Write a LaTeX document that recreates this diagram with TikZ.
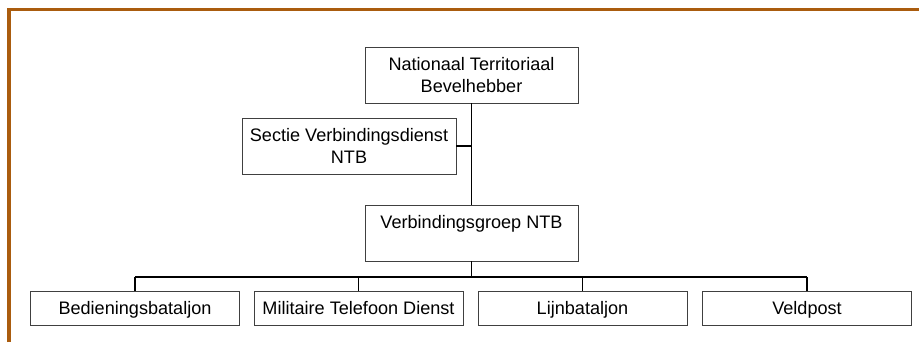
\documentclass[tikz,border=0pt]{standalone}
\usepackage{fontspec}
\setmainfont{Liberation Sans}
\usepackage{tikz}
\usetikzlibrary{positioning}
\definecolor{framebrown}{RGB}{170,92,14}

\begin{document}
\begin{tikzpicture}[x=0.02cm,y=-0.02cm,
  unit/.style={draw=black!75, line width=0.5pt, align=center, inner sep=0pt,
    font=\fontsize{10.3}{12.5}\selectfont},
  bigunit/.style={unit, minimum width=4.26cm, minimum height=1.12cm},
  smallunit/.style={unit, minimum width=4.18cm, minimum height=0.68cm,
    text height=7.4pt, text depth=0.4pt},
  link/.style={line width=0.75pt}]
\useasboundingbox (0,0) rectangle (919,342);
\draw[framebrown, line width=0.07cm] (9,342) -- (9,9.5) -- (919,9.5);%kader
% staf
\node[bigunit] (ntb) at (471.5,75) {Nationaal Territoriaal\\Bevelhebber};
\node[bigunit, minimum width=4.28cm] (sectie) at (349,146) {Sectie Verbindingsdienst\\NTB};
\node[bigunit] (groep) at (471.5,233) {Verbindingsgroep NTB\\\mbox{}};
% onderdelen
\foreach \name/\xpos/\label in
  {bed/135/Bedieningsbataljon, mtd/358.5/Militaire Telefoon Dienst,
   lijn/582.5/Lijnbataljon, veld/807/Veldpost}
  {
   \node[smallunit] (\name) at (\xpos,308) {\label};
  }
\coordinate (bus) at (471.5,277);
\draw[link] (ntb.south) -- (groep.north);
\draw[link] (sectie.east) -- (sectie.east -| ntb.south);
\draw[link] (groep.south) -- (bus);
\draw[link] (bed.north |- bus) -- (veld.north |- bus);
\foreach \name in {bed,mtd,lijn,veld}
   \draw[link] (\name.north) -- (\name.north |- bus);
\end{tikzpicture}
\end{document}
